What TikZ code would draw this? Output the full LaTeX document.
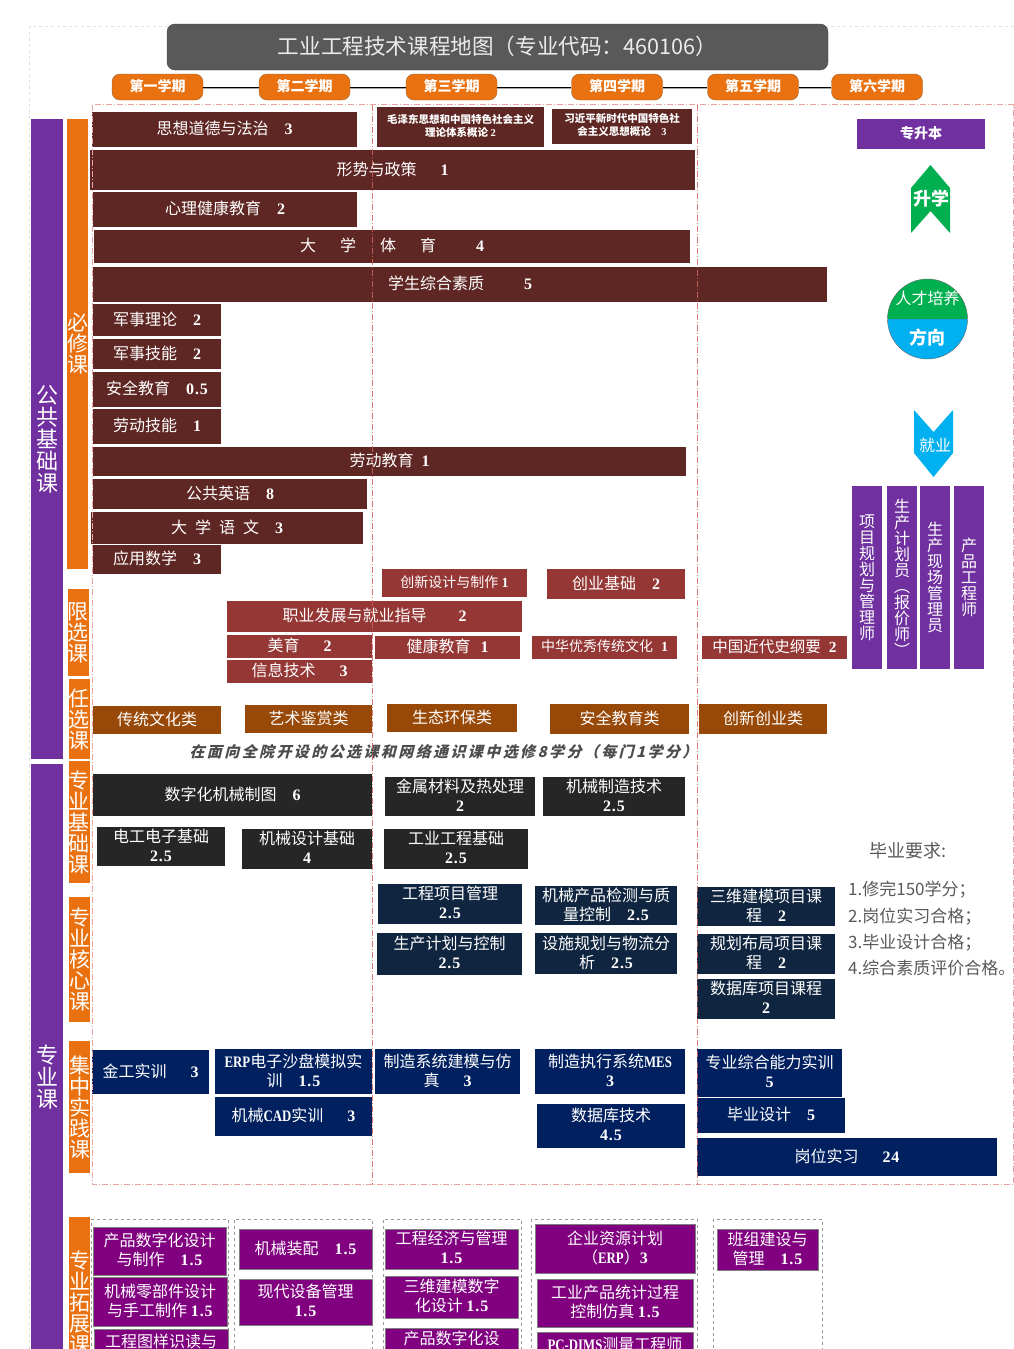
\documentclass[tikz,border=0pt]{standalone}
\usepackage{fontspec}
\setmainfont{Liberation Serif}
\newfontfamily\cjk{Noto Sans CJK SC}
\newfontfamily\cjkit[FakeSlant=0.25,LetterSpace=16]{Noto Sans CJK SC}
\newfontfamily\dgfont[LetterSpace=6]{Liberation Serif}
\newfontfamily\ltfont[FakeStretch=0.8]{Liberation Serif}
\newcommand{\dg}[1]{{\dgfont\bfseries #1}}
\newcommand{\lt}[1]{{\ltfont\bfseries #1}}
\newcommand{\smf}{\fontsize{14}{17}\selectfont}
\newcommand{\mdf}{\fontsize{15.5}{19}\selectfont}

\definecolor{pubbrown}{HTML}{5F2723}
\definecolor{limred}{HTML}{953735}
\definecolor{optbrown}{HTML}{984807}
\definecolor{basedark}{HTML}{262626}
\definecolor{corenavy}{HTML}{10253F}
\definecolor{pracnavy}{HTML}{002060}
\definecolor{extpurple}{HTML}{800080}
\definecolor{sidepurple}{HTML}{7030A0}
\definecolor{tagorange}{HTML}{E97110}
\definecolor{upgreen}{HTML}{00B050}
\definecolor{jobblue}{HTML}{00B0F0}
\definecolor{framepink}{HTML}{E8A5A3}
\definecolor{divred}{HTML}{D4605C}

\tikzset{%
	course/.style={
		rectangle,
		inner sep=0pt,
		align=center,
		text=white,
		font=\cjk\fontsize{16}{19}\selectfont
	},
	card/.style={
		course,
		execute at end node={\rule[-3pt]{0pt}{3pt}}
	},
	semester/.style={
		course,
		fill=tagorange,
		draw=brown!80!black,
		rounded corners=8pt,
		minimum width=91,
		minimum height=26,
		text height=12.3pt,
		text depth=3.7pt,
		font=\cjk\bfseries\fontsize{14}{17}\selectfont
	},
	semline/.style={
		line width=1pt,
		preaction={draw=gray!70,line width=1.5pt,transform canvas={yshift=-1pt}}
	},
	column/.style={
		course,
		fill=tagorange,
		font=\cjk\fontsize{21}{21}\selectfont
	},
	side/.style={
		course,
		fill=sidepurple,
		font=\cjk\fontsize{16}{16}\selectfont
	},
	extbox/.style={
		card,
		fill=extpurple,
		draw=gray
	},
	tiny card/.style={
		course,
		fill=pubbrown,
		execute at end node={\rule[-3.3pt]{0pt}{3.3pt}},
		font=\cjk\bfseries\fontsize{10.5}{13}\selectfont
	},
	pinkframe/.style={
		draw=framepink,
		dash pattern=on 6pt off 2pt on 1pt off 2pt
	},
	extframe/.style={
		draw=gray!80,
		dashed
	},
}

\begin{document}
\begin{tikzpicture}[x=1pt, y=-1pt]
\useasboundingbox (0,0) rectangle (1014,1349);
\clip (0,0) rectangle (1014,1349);

\draw[gray!25, dashed] (29.5,1349) -- (29.5,26.5) -- (1014,26.5);

% title and terms
\node [course,fill=black!65,draw=black!75,rounded corners=8pt,minimum width=661,minimum height=46,
	text height=18.8pt,text depth=4.6pt,
	font=\cjk\fontsize{21.6}{25}\selectfont,text=white!92!black] (title) at (497.5,47) {工业工程技术课程地图（专业代码：460106）};

\foreach \m/\x [count=\i] in {第一学期/157.5, 第二学期/304.5, 第三学期/451.5, 第四学期/617, 第五学期/753, 第六学期/877}
\node [semester] (term-\i) at (\x,87) {\m};

\foreach \i [remember=\i as \j (initially 1)] in {2,...,6}
\draw [semline] (term-\j) -- (term-\i);

% the two big columns
\foreach \l/\y/\h [count=\i] in {公\\共\\基\\础\\课/439/640, 专\\业\\课/1077/626}
\node [column,fill=sidepurple,minimum width=32,minimum height=\h,font=\cjk\fontsize{22}{22}\selectfont] (group-\i) at (47,\y) {\l};

\foreach \l/\x/\y/\w/\h [count=\i] in {
	必\\修\\课/77.5/344/21/450,
	限\\选\\课/78/632.5/20/87,
	任\\选\\课/79/719/20/80,
	专\\业\\基\\础\\课/79/822/20/122,
	专\\业\\核\\心\\课/79.5/959.5/21/125,
	集\\中\\实\\践\\课/79.5/1107/21/132,
	专\\业\\拓\\展\\课/79.5/1302/21/170}
\node [column,minimum width=\w,minimum height=\h] (kind-\i) at (\x,\y) {\l};

% public courses
\foreach \xa/\ya/\xb/\yb/\l [count=\i] in {
	92/112/357/147/{思想道德与法治\quad\dg{3}},
	90/150/695/190/{形势与政策\hspace{24pt}\dg{1}},
	93/192/357/227/{心理健康教育\quad\dg{2}},
	94/230/690/263/{大\hspace{24pt}学\hspace{24pt}体\hspace{24pt}育\hspace{40pt}\dg{4}},
	93/267/827/302/{学生综合素质\hspace{40pt}\dg{5}},
	93/304/221/336/{军事理论\quad\dg{2}},
	93/339/221/369/{军事技能\quad\dg{2}},
	93/372/221/407/{安全教育\quad\dg{0.5}},
	93/409/221/444/{劳动技能\quad\dg{1}},
	93/447/686/476/{劳动教育\hspace{8pt}\dg{1}},
	93/479/367/509/{公共英语\quad\dg{8}},
	91/512/363/544/{大\hspace{8pt}学\hspace{8pt}语\hspace{8pt}文\quad\dg{3}},
	93/545/221/574/{应用数学\quad\dg{3}}}
\node [card,fill=pubbrown,minimum width={\xb-\xa},minimum height={\yb-\ya}] (pub-\i) at ({(\xa+\xb)/2},{(\ya+\yb)/2}) {\l};

\node [tiny card,minimum width=167,minimum height=40] (mao) at (460.5,127) {毛泽东思想和中国特色社会主义\\理论体系概论\ \dg{2}};
\node [tiny card,minimum width=140,minimum height=35] (xi) at (622,126.5) {习近平新时代中国特色社\\会主义思想概论\quad\dg{3}};

% limited choice
\foreach \xa/\ya/\xb/\yb/\l [count=\i] in {
	382/569/527/597/{\smf 创新设计与制作\ \dg{1}},
	547/569/685/599/{创业基础\quad\dg{2}},
	227/601/522/632/{职业发展与就业指导\hspace{32pt}\dg{2}},
	227/635/372/658/{美育\hspace{24pt}\dg{2}},
	227/660/372/683/{信息技术\hspace{24pt}\dg{3}},
	375/636/520/659/{健康教育\hspace{10pt}\dg{1}},
	532/636/677/659/{\smf 中华优秀传统文化\hspace{8pt}\dg{1}},
	702/636/847/659/{\mdf 中国近代史纲要\hspace{8pt}\dg{2}}}
\node [card,fill=limred,minimum width={\xb-\xa},minimum height={\yb-\ya}] (lim-\i) at ({(\xa+\xb)/2},{(\ya+\yb)/2}) {\l};

% free choice
\foreach \xa/\ya/\xb/\yb/\l [count=\i] in {
	93/706/221/734/传统文化类,
	245/705/372/733/艺术鉴赏类,
	387/704/517/732/生态环保类,
	550/704/689/734/安全教育类,
	699/704/827/734/创新创业类}
\node [card,fill=optbrown,minimum width={\xb-\xa},minimum height={\yb-\ya}] (opt-\i) at ({(\xa+\xb)/2},{(\ya+\yb)/2}) {\l};

\node [course,text=black!70,font=\cjkit\bfseries\fontsize{15}{17}\selectfont] (note) at (443.5,751.5) {在面向全院开设的公选课和网络通识课中选修8学分（每门1学分）};

% base courses
\foreach \xa/\ya/\xb/\yb/\l [count=\i] in {
	93/774/372/816/{数字化机械制图\quad\dg{6}},
	385/777/535/816/{金属材料及热处理\\\dg{2}},
	543/777/685/816/{机械制造技术\\\dg{2.5}},
	97/827/225/866/{电工电子基础\\\dg{2.5}},
	242/829/372/869/{机械设计基础\\\dg{4}},
	384/829/528/869/{工业工程基础\\\dg{2.5}}}
\node [card,fill=basedark,minimum width={\xb-\xa},minimum height={\yb-\ya}] (base-\i) at ({(\xa+\xb)/2},{(\ya+\yb)/2}) {\l};

% core courses
\foreach \xa/\ya/\xb/\yb/\l [count=\i] in {
	378/884/522/924/{工程项目管理\\\dg{2.5}},
	535/886/677/925/{机械产品检测与质\\量控制\quad\dg{2.5}},
	697/887/835/926/{三维建模项目课\\程\quad\dg{2}},
	377/933/522/975/{生产计划与控制\\\dg{2.5}},
	535/933/677/974/{设施规划与物流分\\析\quad\dg{2.5}},
	697/934/835/974/{规划布局项目课\\程\quad\dg{2}},
	697/979/835/1019/{数据库项目课程\\\dg{2}}}
\node [card,fill=corenavy,minimum width={\xb-\xa},minimum height={\yb-\ya}] (core-\i) at ({(\xa+\xb)/2},{(\ya+\yb)/2}) {\l};

% practice
\foreach \xa/\ya/\xb/\yb/\l [count=\i] in {
	92/1050/209/1094/{金工实训\hspace{24pt}\dg{3}},
	215/1049/372/1094/{\lt{ERP}电子沙盘模拟实\\训\quad\dg{1.5}},
	215/1097/372/1136/{机械\lt{CAD}实训\hspace{24pt}\dg{3}},
	375/1049/520/1094/{制造系统建模与仿\\真\hspace{24pt}\dg{3}},
	535/1049/685/1094/{制造执行系统\lt{MES}\\\dg{3}},
	537/1104/685/1148/{数据库技术\\\dg{4.5}},
	697/1049/842/1097/{专业综合能力实训\\\dg{5}},
	697/1098/845/1133/{毕业设计\quad\dg{5}},
	697/1138/997/1176/{岗位实习\hspace{24pt}\dg{24}}}
\node [card,fill=pracnavy,minimum width={\xb-\xa},minimum height={\yb-\ya}] (prac-\i) at ({(\xa+\xb)/2},{(\ya+\yb)/2}) {\l};

% extension
\foreach \xa/\xb/\ya/\yb/\n in {91.5/228/1219/1380/1, 234/372/1219/1380/2, 383/521/1219/1380/3, 531.5/697/1219/1380/4, 713.5/822/1219/1380/5}
\node [extframe,draw,minimum width={\xb-\xa},minimum height={\yb-\ya}] (frame-\n) at ({(\xa+\xb)/2},{(\ya+\yb)/2}) {};

\foreach \xa/\ya/\xb/\yb/\l [count=\i] in {
	93/1227/226/1275/{产品数字化设计\\与制作\quad\dg{1.5}},
	93/1277/227/1326/{机械零部件设计\\与手工制作\ \dg{1.5}},
	94/1329/228/1375/{工程图样识读与\\~},
	239/1229/372/1269/{机械装配\quad\dg{1.5}},
	239/1279/372/1325/{现代设备管理\\\dg{1.5}},
	385/1229/518/1269/{工程经济与管理\\\dg{1.5}},
	385/1276/518/1318/{三维建模数字\\化设计\ \dg{1.5}},
	385/1328/518/1370/{产品数字化设\\~},
	535/1224/695/1273/{企业资源计划\\（\lt{ERP}）\dg{3}},
	537/1279/693/1327/{工业产品统计过程\\控制仿真\ \dg{1.5}},
	537/1332/693/1378/{\lt{PC-DIMS}测量工程师\\~},
	717/1229/818/1270/{班组建设与\\管理\quad\dg{1.5}}}
\node [extbox,minimum width={\xb-\xa},minimum height={\yb-\ya}] (ext-\i) at ({(\xa+\xb)/2},{(\ya+\yb)/2}) {\l};

% right hand side
\node [course,fill=sidepurple,minimum width=128,minimum height=30,font=\cjk\bfseries\fontsize{14}{17}\selectfont] (plus) at (921,133.5) {专升本};

\fill[upgreen] (930.5,165) -- (950,188) -- (950,233) -- (930.5,211) -- (911,233) -- (911,188) -- cycle;
\node [course,font=\cjk\bfseries\fontsize{18}{20}\selectfont] (study) at (931,199) {升学};

\fill[upgreen] (887.5,319) arc[start angle=180,end angle=360,radius=40] -- cycle;
\fill[jobblue] (887.5,319) arc[start angle=180,end angle=0,radius=40] -- cycle;
\draw[black!60,thin] (927.5,319) circle[radius=40] (887.5,319) -- (967.5,319);
\node [course] (talent) at (927.5,298) {人才培养};
\node [course,font=\cjk\bfseries\fontsize{18}{20}\selectfont] (aim) at (927.5,338) {方向};

\fill[jobblue] (914,410) -- (933.5,432) -- (953,410) -- (953,453) -- (933.5,477) -- (914,453) -- cycle;
\node [course] (job) at (935,445) {就业};

\foreach \l/\x [count=\i] in {
	项\\目\\规\\划\\与\\管\\理\\师/867,
	生\\产\\计\\划\\员\\︵\\报\\价\\师\\︶/902,
	生\\产\\现\\场\\管\\理\\员/935,
	产\\品\\工\\程\\师/969}
\node [side,minimum width=30,minimum height=183] (post-\i) at (\x,577.5) {\l};

\node [course,text=black!65,font=\cjk\fontsize{18}{20}\selectfont] (need) at (908,850.5) {毕业要求:};
\foreach \l/\y [count=\i] in {1.修完150学分；/889.5, 2.岗位实习合格；/916.5, 3.毕业设计合格；/942.5, 4.综合素质评价合格。/968.5}
\node [course,anchor=west,text=black!65,font=\cjk\fontsize{17}{20}\selectfont] (need-\i) at (848,\y) {\l};

% frame and term dividers
\draw[pinkframe] (92.5,104.5) rectangle (1013,1184.5);
\foreach \x in {372.5,697.5}
\draw[pinkframe,draw=divred,opacity=.85] (\x,104.5) -- (\x,1184.5);

\end{tikzpicture}
\end{document}
